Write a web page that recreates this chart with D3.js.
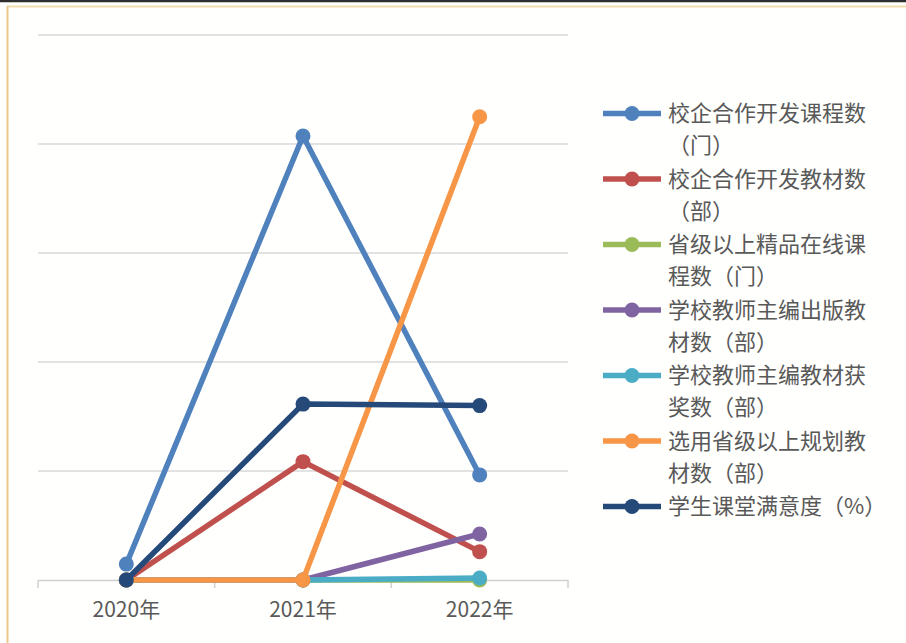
<!DOCTYPE html>
<meta charset="utf-8">
<script src="https://d3js.org/d3.v7.min.js"></script>
<style>
  body { margin: 0; background: #fff; }
  text { font-family: "Noto Sans CJK SC", "Noto Sans", sans-serif; fill: #595959; }
</style>
<div id="my_dataviz"></div>
<script>

// categories and tick values
var years = ["2020年", "2021年", "2022年"];
var yTicks = [0, 50, 100, 150, 200, 250];

// series
var seriesNames = [
  "校企合作开发课程数（门）",
  "校企合作开发教材数（部）",
  "省级以上精品在线课程数（门）",
  "学校教师主编出版教材数（部）",
  "学校教师主编教材获奖数（部）",
  "选用省级以上规划教材数（部）",
  "学生课堂满意度（%）"
];
var courseVals    = [7.3, 203.7, 48.2];
var textbookVals  = [0, 54.3, 13];
var onlineVals    = [0, 0, 0];
var publishVals   = [0, 0, 21.1];
var awardVals     = [0, 0, 0.9];
var plannedVals   = [0, 0, 212.5];
var satisfyVals   = [0, 80.7, 80];
var seriesColors = ["#4f81bd", "#c0504d", "#9bbb59", "#8064a2", "#4bacc6", "#f79646", "#254a7a"];

var allVals = [courseVals, textbookVals, onlineVals, publishVals, awardVals, plannedVals, satisfyVals];
var series = seriesNames.map(function(n, i) {
  return { name: n, color: seriesColors[i], values: allVals[i] };
});

var W = 906, H = 643;
var svg = d3.select("#my_dataviz").append("svg")
  .attr("width", W).attr("height", H);

// background and frame
svg.append("rect").attr("width", W).attr("height", H).attr("fill", "#fffffd");
svg.append("line").attr("x1", 0).attr("x2", W).attr("y1", 1).attr("y2", 1)
  .attr("stroke", "#2e2e2e").attr("stroke-width", 2.5);
svg.append("line").attr("x1", 7).attr("x2", W).attr("y1", 6.5).attr("y2", 6.5)
  .attr("stroke", "#f2dcae").attr("stroke-width", 2);
svg.append("line").attr("x1", 7.5).attr("x2", 7.5).attr("y1", 6).attr("y2", H)
  .attr("stroke", "#ecc88a").attr("stroke-width", 2);

// scales
var x = d3.scaleBand().domain(years).range([38, 568]).padding(0);
var y = d3.scaleLinear().domain([0, 250]).range([580, 35]);
function cx(d) { return x(d) + x.bandwidth() / 2; }

// gridlines
svg.append("g").selectAll("line").data(yTicks.slice(1)).enter().append("line")
  .attr("x1", 38).attr("x2", 568)
  .attr("y1", function(d) { return y(d); }).attr("y2", function(d) { return y(d); })
  .attr("stroke", "#d9d9d9").attr("stroke-width", 1.5);

// x axis
var xAxis = svg.append("g").attr("transform", "translate(0,580)")
  .call(d3.axisBottom(x).tickSize(0).tickPadding(22));
xAxis.select(".domain").attr("stroke", "#d0d0d0").attr("stroke-width", 1.5);
xAxis.selectAll("text").style("font-size", "21px").attr("fill", "#595959");
var edges = years.map(function(d) { return x(d); }).concat([x(years[years.length - 1]) + x.bandwidth()]);
xAxis.selectAll("line.edge").data(edges).enter().append("line")
  .attr("class", "edge")
  .attr("x1", function(d) { return d; }).attr("x2", function(d) { return d; })
  .attr("y1", 0).attr("y2", 8)
  .attr("stroke", "#d0d0d0").attr("stroke-width", 1.5);

// lines and markers
var line = d3.line()
  .x(function(d, i) { return cx(years[i]); })
  .y(function(d) { return y(d); });

series.forEach(function(s) {
  var g = svg.append("g");
  g.append("path").datum(s.values)
    .attr("d", line)
    .attr("fill", "none")
    .attr("stroke", s.color)
    .attr("stroke-width", 5.5)
    .attr("stroke-linejoin", "round");
  g.selectAll("circle").data(s.values).enter().append("circle")
    .attr("cx", function(d, i) { return cx(years[i]); })
    .attr("cy", function(d) { return y(d); })
    .attr("r", 7.5)
    .attr("fill", s.color);
});

// legend (long names wrap after nine characters)
var legend = svg.append("g");
series.forEach(function(s, i) {
  var ly = 113.5 + i * 65.5;
  var g = legend.append("g").attr("transform", "translate(0," + ly + ")");
  g.append("line").attr("x1", 603).attr("x2", 661).attr("y1", 0).attr("y2", 0)
    .attr("stroke", s.color).attr("stroke-width", 5.5);
  g.append("circle").attr("cx", 632).attr("cy", 0).attr("r", 7.5).attr("fill", s.color);
  var chars = Array.from(s.name);
  var lines = chars.length > 10 ? [chars.slice(0, 9).join(""), chars.slice(9).join("")] : [s.name];
  var t = g.append("text")
    .attr("x", 668).attr("y", 0)
    .style("font-size", "22px");
  lines.forEach(function(l, j) {
    t.append("tspan")
      .attr("x", 668)
      .attr("y", j * 32)
      .attr("dy", "0.36em")
      .text(l);
  });
});

</script>
